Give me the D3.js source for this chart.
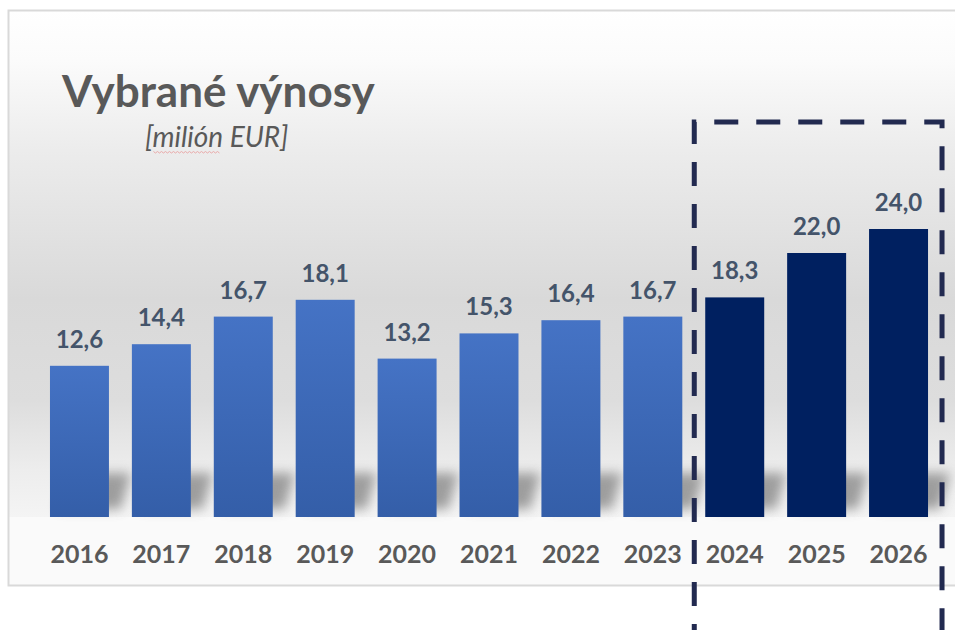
<!DOCTYPE html>
<html>
<head>
<meta charset="utf-8">
<script src="https://cdn.jsdelivr.net/npm/d3@7"></script>
<style>
  body { margin: 0; background: #fff; }
  svg { display: block; }
</style>
</head>
<body>
<svg id="chart" width="955" height="630"></svg>
<script>
const years = ["2016", "2017", "2018", "2019", "2020", "2021", "2022", "2023", "2024", "2025", "2026"];
const values = [12.6, 14.4, 16.7, 18.1, 13.2, 15.3, 16.4, 16.7, 18.3, 22.0, 24.0];
const forecastYears = ["2024", "2025", "2026"];

const width = 955;
const height = 630;
const svg = d3.select("#chart");
const baseline = 517;

const x = d3.scaleBand()
  .domain(years)
  .range([38.5, 939.5])
  .paddingInner(0.28)
  .paddingOuter(0.14);

const y = d3.scaleLinear()
  .domain([0, 24])
  .range([baseline, 229]);

const defs = svg.append("defs");

// background wall gradient
const bg = defs.append("linearGradient")
  .attr("id", "bg-grad")
  .attr("gradientUnits", "userSpaceOnUse")
  .attr("x1", 0).attr("x2", 0).attr("y1", 10).attr("y2", baseline);
[
  [10, "#ffffff"], [60, "#fbfbfb"], [150, "#ececec"], [300, "#d9d9d9"],
  [400, "#dddddd"], [470, "#ededed"], [517, "#f4f4f4"]
].forEach(([pos, c]) => {
  bg.append("stop")
    .attr("offset", ((pos - 10) / (baseline - 10)))
    .attr("stop-color", c);
});

const barGrad = defs.append("linearGradient")
  .attr("id", "bar-grad")
  .attr("x1", 0).attr("x2", 0).attr("y1", 0).attr("y2", 1);
barGrad.append("stop").attr("offset", 0).attr("stop-color", "#4573c5");
barGrad.append("stop").attr("offset", 1).attr("stop-color", "#345ea8");

defs.append("filter")
  .attr("id", "blur")
  .attr("x", "-50%").attr("y", "-50%").attr("width", "200%").attr("height", "200%")
  .append("feGaussianBlur")
  .attr("stdDeviation", 6);

// frame
svg.append("rect")
  .attr("x", 8).attr("y", 10)
  .attr("width", 960).attr("height", baseline - 10)
  .attr("fill", "url(#bg-grad)");

svg.append("rect")
  .attr("x", 8).attr("y", baseline)
  .attr("width", 960).attr("height", 585 - baseline)
  .attr("fill", "#fafafa");

svg.append("rect")
  .attr("x", 8.5).attr("y", 10.5)
  .attr("width", 960).attr("height", 575)
  .attr("fill", "none")
  .attr("stroke", "#d9d9d9")
  .attr("stroke-width", 2);

// shadows behind bars
svg.append("g")
  .selectAll("path")
  .data(years)
  .join("path")
  .attr("d", (d) => {
    const x0 = x(d);
    const bw = x.bandwidth();
    return `M${x0 + 22},${baseline - 44} L${x0 + bw + 22},${baseline - 44} L${x0 + bw + 12},${baseline - 8} L${x0 + 8},${baseline - 8} Z`;
  })
  .attr("fill", "#8f8f8f")
  .attr("opacity", 0.85)
  .attr("filter", "url(#blur)");

// bars
svg.append("g")
  .selectAll("rect")
  .data(years)
  .join("rect")
  .attr("x", (d) => x(d))
  .attr("y", (d, i) => y(values[i]))
  .attr("width", x.bandwidth())
  .attr("height", (d, i) => baseline - y(values[i]))
  .attr("fill", (d) => forecastYears.includes(d) ? "#002060" : "url(#bar-grad)");

// value labels
svg.append("g")
  .selectAll("text")
  .data(years)
  .join("text")
  .attr("x", (d) => x(d) + x.bandwidth() / 2)
  .attr("y", (d, i) => y(values[i]) - 18)
  .attr("text-anchor", "middle")
  .style("font-family", "Lato, 'Open Sans', sans-serif")
  .style("font-weight", "bold")
  .style("font-size", "24px")
  .style("fill", "#44546a")
  .text((d, i) => values[i].toFixed(1).replace(".", ","));

// category labels
svg.append("g")
  .selectAll("text")
  .data(years)
  .join("text")
  .attr("x", (d) => x(d) + x.bandwidth() / 2)
  .attr("y", 563)
  .attr("text-anchor", "middle")
  .style("font-family", "Lato, 'Open Sans', sans-serif")
  .style("font-weight", "bold")
  .style("font-size", "25px")
  .style("fill", "#595959")
  .text((d) => d);

// title
svg.append("text")
  .attr("x", 62)
  .attr("y", 107)
  .style("font-family", "Lato, 'Open Sans', sans-serif")
  .style("font-weight", "bold")
  .style("font-size", "44px")
  .style("fill", "#595959")
  .text("Vybrané výnosy");

const sub = svg.append("text")
  .attr("x", 145)
  .attr("y", 147)
  .style("font-family", "Lato, 'Open Sans', sans-serif")
  .style("font-style", "italic")
  .style("font-size", "28px")
  .style("fill", "#595959");
sub.append("tspan").text("[");
const word = sub.append("tspan").text("milión");
sub.append("tspan").text(" EUR]");

// spell-check squiggle under "milión"
const wb = word.node().getBBox();
const wave = d3.range(wb.x + 1, wb.x + wb.width - 2, 2)
  .map((px, i) => [px, 152 + (i % 2 ? 1 : -0.5)]);
svg.append("path")
  .attr("d", d3.line()(wave))
  .attr("fill", "none")
  .attr("stroke", "#eaa9a9")
  .attr("stroke-width", 1);

// forecast dashed frame
const fx0 = x("2024") - (x.step() - x.bandwidth()) / 2 + 0.5;
const fx1 = x("2026") + x.bandwidth() + 14;
svg.append("path")
  .attr("d", `M${fx0},${height + 10} L${fx0},122 L${fx1},122 L${fx1},${height + 10}`)
  .attr("fill", "none")
  .attr("stroke", "#222a50")
  .attr("stroke-width", 5)
  .attr("stroke-dasharray", "24,18")
  .attr("stroke-dashoffset", 8);
</script>
</body>
</html>
